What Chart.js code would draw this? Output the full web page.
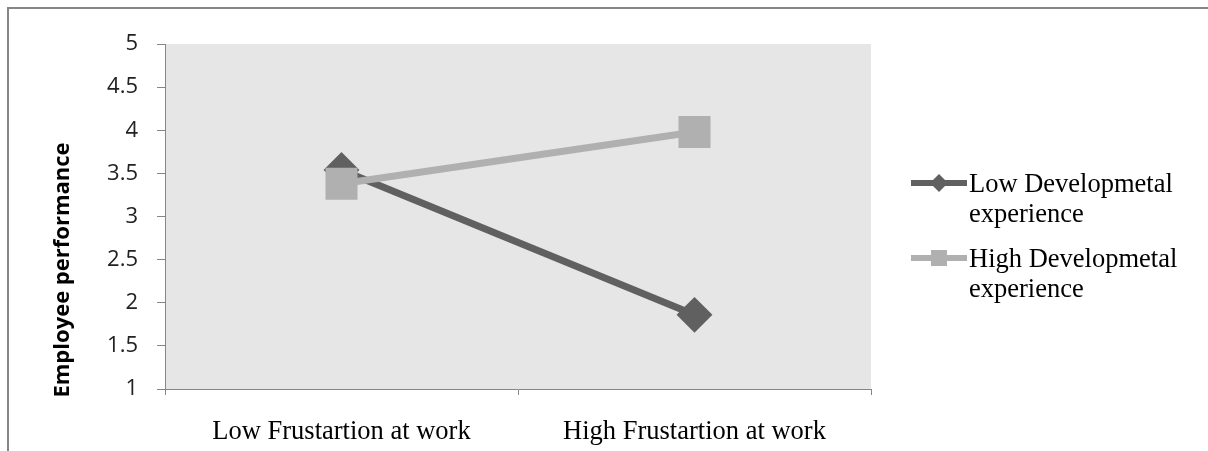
<!DOCTYPE html>
<html>
<head>
<meta charset="utf-8">
<script src="https://cdn.jsdelivr.net/npm/chart.js@4/dist/chart.umd.min.js"></script>
<style>
  html, body { margin: 0; padding: 0; background: #fff; }
  #wrap { position: relative; width: 1208px; height: 451px; overflow: hidden; }
  #frame { position: absolute; left: 7px; top: 7px; right: -10px; bottom: -10px;
           border-top: 2px solid #868686; border-left: 2px solid #868686; }
  #legend { position: absolute; left: 911px; top: 168px; }
  .item { display: flex; align-items: flex-start; margin-bottom: 15px; }
  .item svg { flex: none; }
  .item span { font-family: "Liberation Serif", serif; font-size: 26.5px; line-height: 30px;
               color: #000; width: 235px; padding-left: 2px; }
</style>
</head>
<body>
<div id="wrap">
  <div id="frame"></div>
  <canvas id="chart" width="1208" height="451"></canvas>
  <div id="legend"></div>
</div>
<script>
// data
const categories = ['Low Frustartion at work', 'High Frustartion at work'];
const lowDevelopmental = [3.54, 1.86];
const highDevelopmental = [3.38, 3.98];
const yTicks = [1, 1.5, 2, 2.5, 3, 3.5, 4, 4.5, 5];

const axisColor = '#868686';

// grey plot area + rotated y title
const plotBackground = {
    id: 'plotBackground',
    beforeDraw(chart) {
        const a = chart.chartArea;
        const ctx = chart.ctx;
        ctx.save();
        ctx.fillStyle = '#e6e6e6';
        ctx.fillRect(a.left, a.top, a.right - a.left, a.bottom - a.top);
        ctx.restore();
    },
    afterDraw(chart) {
        const ctx = chart.ctx;
        ctx.save();
        ctx.translate(69, 270);
        ctx.rotate(-Math.PI / 2);
        ctx.font = 'bold 22px "Open Sans"';
        ctx.fillStyle = '#000';
        ctx.textAlign = 'center';
        ctx.textBaseline = 'alphabetic';
        ctx.fillText('Employee performance', 0, 0);
        ctx.restore();
    }
};

const chart = new Chart(document.getElementById('chart'), {
    type: 'line',
    data: {
        labels: categories,
        datasets: [
            {
                label: 'Low Developmetal experience',
                data: lowDevelopmental,
                borderColor: '#606060',
                backgroundColor: '#606060',
                borderWidth: 7,
                pointStyle: 'rectRot',
                pointRadius: 13,
                pointHoverRadius: 13,
                order: 1
            },
            {
                label: 'High Developmetal experience',
                data: highDevelopmental,
                borderColor: '#b0b0b0',
                backgroundColor: '#b0b0b0',
                borderWidth: 7,
                pointStyle: 'rect',
                pointRadius: 17.7,
                pointHoverRadius: 17.7,
                order: 0
            }
        ]
    },
    options: {
        responsive: false,
        animation: false,
        layout: { padding: { top: 44, right: 337, bottom: 0, left: 0 } },
        plugins: {
            legend: { display: false },
            title: { display: false },
            tooltip: { enabled: false }
        },
        scales: {
            x: {
                offset: true,
                grid: { offset: true, drawOnChartArea: false, color: axisColor, tickLength: 6 },
                border: { color: axisColor },
                ticks: {
                    color: '#000',
                    padding: 21,
                    font: { family: 'Liberation Serif', size: 26.5 }
                },
                afterFit(s) { s.height = 62; }
            },
            y: {
                min: 1,
                max: 5,
                grid: { drawOnChartArea: false, color: axisColor, tickLength: 8 },
                border: { color: axisColor },
                afterBuildTicks(s) { s.ticks = yTicks.map(v => ({ value: v })); },
                ticks: {
                    color: '#222',
                    padding: 19,
                    font: { family: 'Open Sans', size: 22 },
                    callback: v => String(v)
                },
                afterFit(s) { s.width = 165; }
            }
        }
    },
    plugins: [plotBackground]
});

// html legend built from the datasets
const legend = document.getElementById('legend');
chart.data.datasets.forEach(ds => {
    const item = document.createElement('div');
    item.className = 'item';
    let marker;
    if (ds.pointStyle === 'rectRot') {
        marker = '<polygon points="28,6 37,15 28,24 19,15" fill="' + ds.borderColor + '"/>';
    } else {
        marker = '<rect x="20" y="7" width="16" height="16" fill="' + ds.borderColor + '"/>';
    }
    item.innerHTML = '<svg width="56" height="30"><line x1="1" y1="15" x2="56" y2="15" stroke="' +
        ds.borderColor + '" stroke-width="6" stroke-linecap="round"/>' + marker + '</svg>' +
        '<span>' + ds.label + '</span>';
    legend.appendChild(item);
});
</script>
</body>
</html>
